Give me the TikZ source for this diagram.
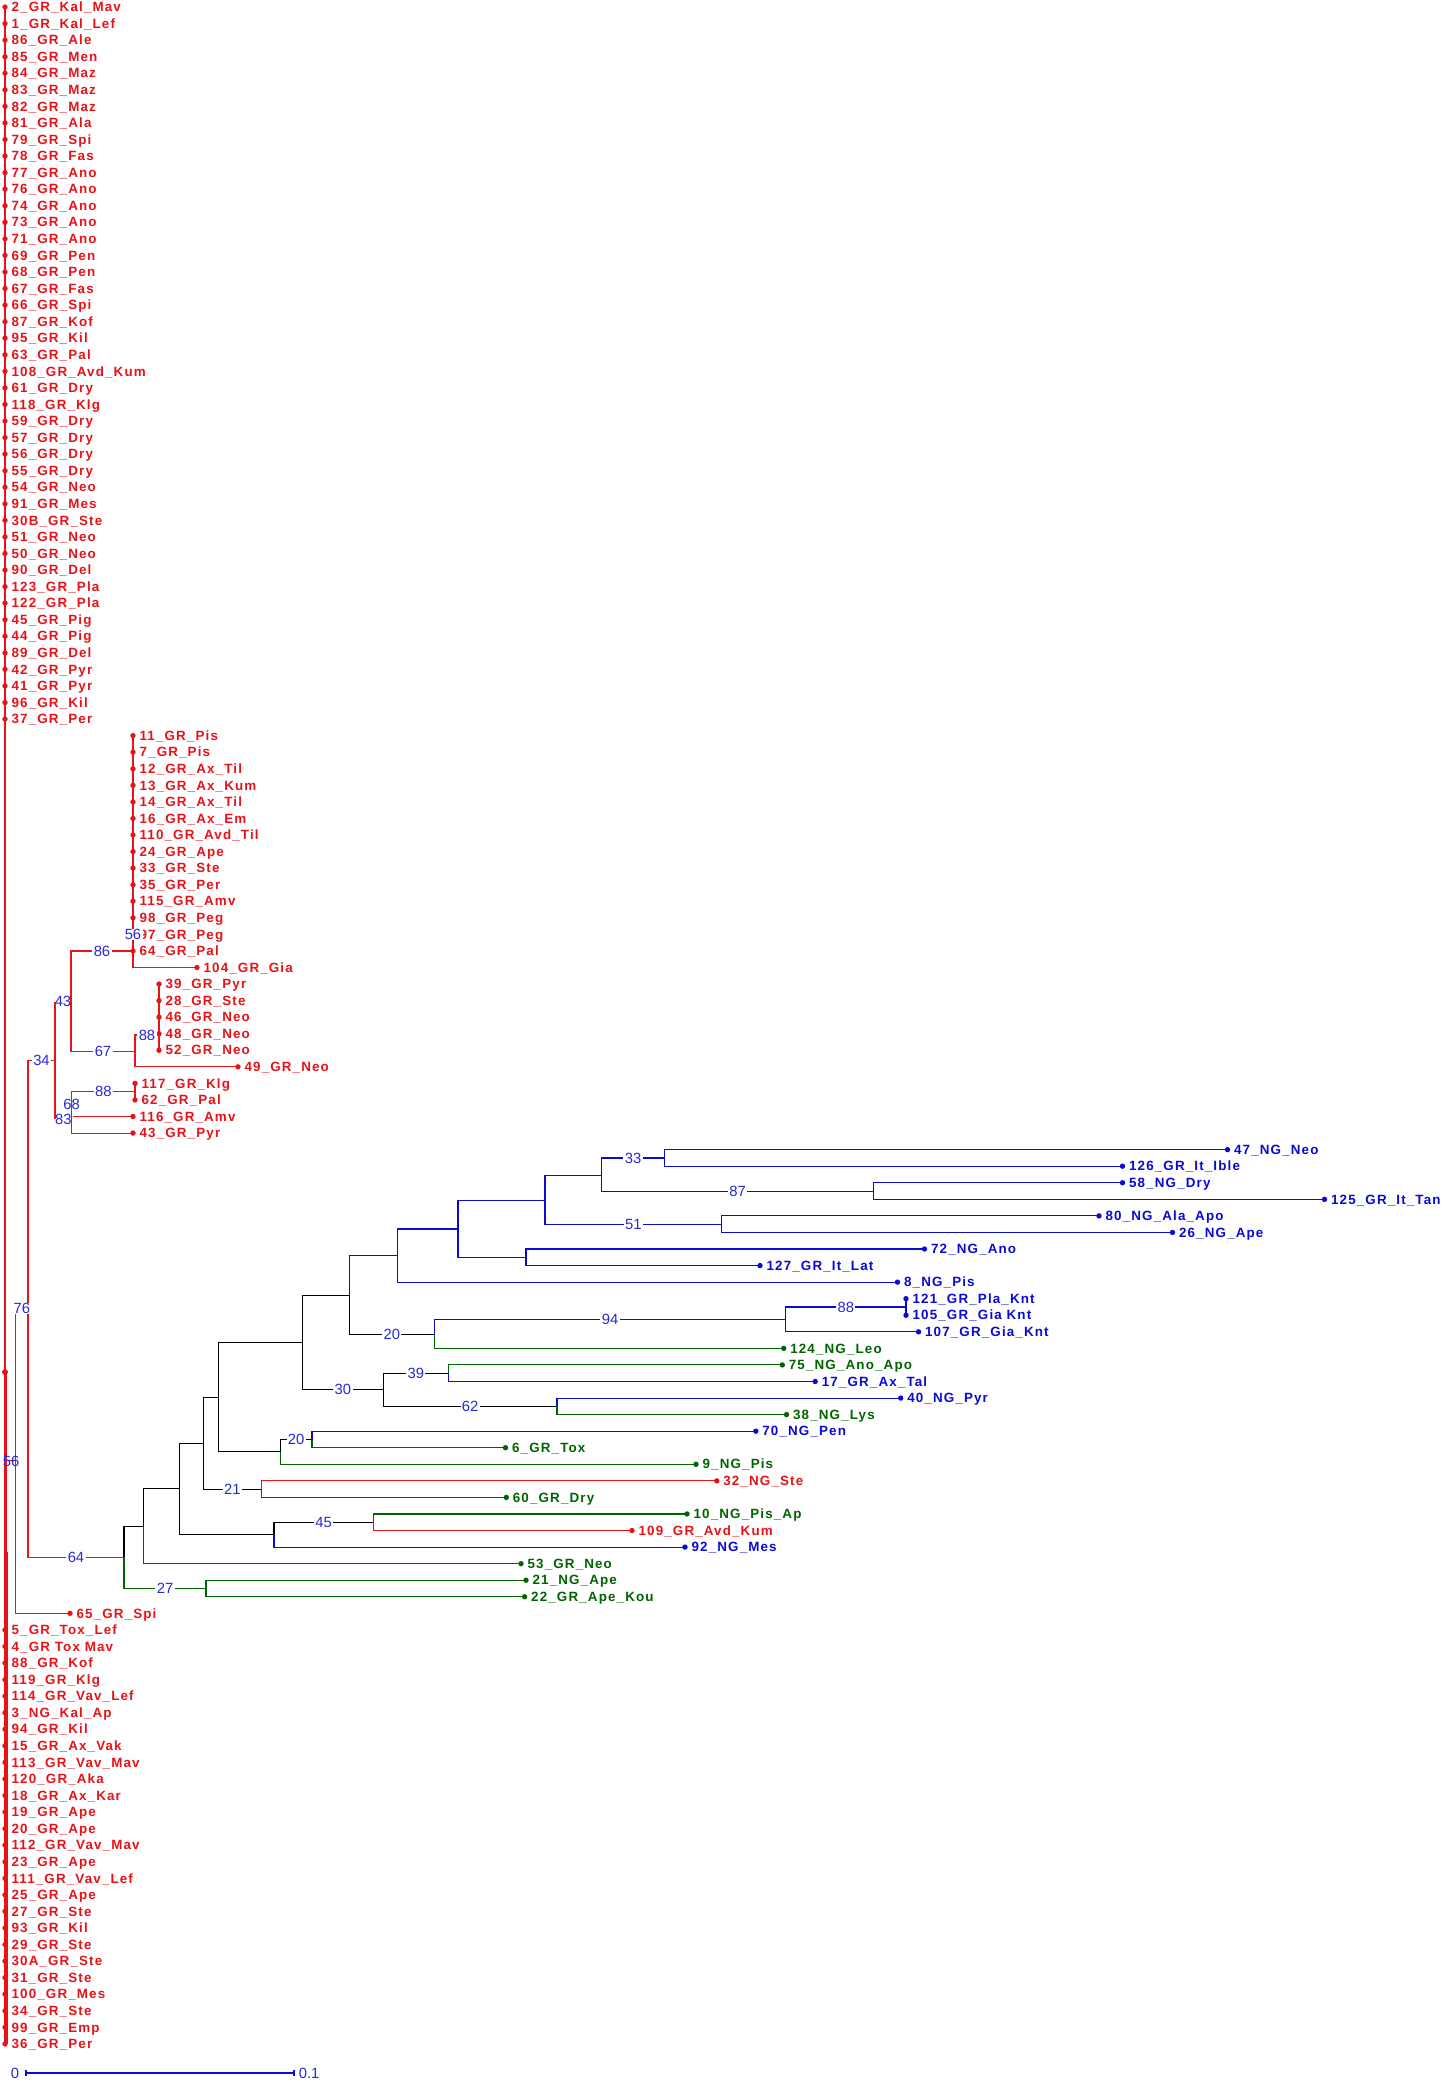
\documentclass[tikz,border=0pt]{standalone}
\usepackage{fontspec}
\setmainfont{Liberation Sans}
\newfontfamily\leaffont[LetterSpace=8.5]{Liberation Sans}
\definecolor{tred}{RGB}{232,18,24}
\definecolor{tblue}{RGB}{10,10,215}
\definecolor{tgreen}{RGB}{0,100,0}
\definecolor{bsblue}{RGB}{40,40,215}
\tikzset{
 lt/.style={font=\leaffont\bfseries\fontsize{6.7}{6.7}\selectfont, inner sep=0pt},
 bs/.style={text=bsblue, font=\fontsize{7.4}{7.4}\selectfont, fill=white, inner xsep=0.7pt, inner ysep=0.3pt},
 bsn/.style={bs, fill=none},
 br/.style={line width=0.55pt},
}
\newcommand\lf[5]{%
 \coordinate (#1) at (#2,{7+16.56*#3});
 \fill[#4] (#1) circle (1.35pt);
 \node[lt,text=#4,anchor=base west] (t#1) at ([xshift=3.1pt,yshift=-2.35pt]#1) {#5};
}
\begin{document}
\begin{tikzpicture}[x=0.5pt,y=-0.5pt]
\fill[white] (0,0) rectangle (1445,2083);
\useasboundingbox (0,0) rectangle (1445,2083);
% ---------- leaves ----------
\lf{l0}{5}{0}{tred}{2\_GR\_Kal\_Mav}
\lf{l1}{5}{1}{tred}{1\_GR\_Kal\_Lef}
\lf{l2}{5}{2}{tred}{86\_GR\_Ale}
\lf{l3}{5}{3}{tred}{85\_GR\_Men}
\lf{l4}{5}{4}{tred}{84\_GR\_Maz}
\lf{l5}{5}{5}{tred}{83\_GR\_Maz}
\lf{l6}{5}{6}{tred}{82\_GR\_Maz}
\lf{l7}{5}{7}{tred}{81\_GR\_Ala}
\lf{l8}{5}{8}{tred}{79\_GR\_Spi}
\lf{l9}{5}{9}{tred}{78\_GR\_Fas}
\lf{l10}{5}{10}{tred}{77\_GR\_Ano}
\lf{l11}{5}{11}{tred}{76\_GR\_Ano}
\lf{l12}{5}{12}{tred}{74\_GR\_Ano}
\lf{l13}{5}{13}{tred}{73\_GR\_Ano}
\lf{l14}{5}{14}{tred}{71\_GR\_Ano}
\lf{l15}{5}{15}{tred}{69\_GR\_Pen}
\lf{l16}{5}{16}{tred}{68\_GR\_Pen}
\lf{l17}{5}{17}{tred}{67\_GR\_Fas}
\lf{l18}{5}{18}{tred}{66\_GR\_Spi}
\lf{l19}{5}{19}{tred}{87\_GR\_Kof}
\lf{l20}{5}{20}{tred}{95\_GR\_Kil}
\lf{l21}{5}{21}{tred}{63\_GR\_Pal}
\lf{l22}{5}{22}{tred}{108\_GR\_Avd\_Kum}
\lf{l23}{5}{23}{tred}{61\_GR\_Dry}
\lf{l24}{5}{24}{tred}{118\_GR\_Klg}
\lf{l25}{5}{25}{tred}{59\_GR\_Dry}
\lf{l26}{5}{26}{tred}{57\_GR\_Dry}
\lf{l27}{5}{27}{tred}{56\_GR\_Dry}
\lf{l28}{5}{28}{tred}{55\_GR\_Dry}
\lf{l29}{5}{29}{tred}{54\_GR\_Neo}
\lf{l30}{5}{30}{tred}{91\_GR\_Mes}
\lf{l31}{5}{31}{tred}{30B\_GR\_Ste}
\lf{l32}{5}{32}{tred}{51\_GR\_Neo}
\lf{l33}{5}{33}{tred}{50\_GR\_Neo}
\lf{l34}{5}{34}{tred}{90\_GR\_Del}
\lf{l35}{5}{35}{tred}{123\_GR\_Pla}
\lf{l36}{5}{36}{tred}{122\_GR\_Pla}
\lf{l37}{5}{37}{tred}{45\_GR\_Pig}
\lf{l38}{5}{38}{tred}{44\_GR\_Pig}
\lf{l39}{5}{39}{tred}{89\_GR\_Del}
\lf{l40}{5}{40}{tred}{42\_GR\_Pyr}
\lf{l41}{5}{41}{tred}{41\_GR\_Pyr}
\lf{l42}{5}{42}{tred}{96\_GR\_Kil}
\lf{l43}{5}{43}{tred}{37\_GR\_Per}
\lf{l44}{133}{44}{tred}{11\_GR\_Pis}
\lf{l45}{133}{45}{tred}{7\_GR\_Pis}
\lf{l46}{133}{46}{tred}{12\_GR\_Ax\_Til}
\lf{l47}{133}{47}{tred}{13\_GR\_Ax\_Kum}
\lf{l48}{133}{48}{tred}{14\_GR\_Ax\_Til}
\lf{l49}{133}{49}{tred}{16\_GR\_Ax\_Em}
\lf{l50}{133}{50}{tred}{110\_GR\_Avd\_Til}
\lf{l51}{133}{51}{tred}{24\_GR\_Ape}
\lf{l52}{133}{52}{tred}{33\_GR\_Ste}
\lf{l53}{133}{53}{tred}{35\_GR\_Per}
\lf{l54}{133}{54}{tred}{115\_GR\_Amv}
\lf{l55}{133}{55}{tred}{98\_GR\_Peg}
\lf{l56}{133}{56}{tred}{97\_GR\_Peg}
\lf{l57}{133}{57}{tred}{64\_GR\_Pal}
\lf{l58}{197}{58}{tred}{104\_GR\_Gia}
\lf{l59}{159}{59}{tred}{39\_GR\_Pyr}
\lf{l60}{159}{60}{tred}{28\_GR\_Ste}
\lf{l61}{159}{61}{tred}{46\_GR\_Neo}
\lf{l62}{159}{62}{tred}{48\_GR\_Neo}
\lf{l63}{159}{63}{tred}{52\_GR\_Neo}
\lf{l64}{238}{64}{tred}{49\_GR\_Neo}
\lf{l65}{135}{65}{tred}{117\_GR\_Klg}
\lf{l66}{135}{66}{tred}{62\_GR\_Pal}
\lf{l67}{133}{67}{tred}{116\_GR\_Amv}
\lf{l68}{133}{68}{tred}{43\_GR\_Pyr}
\lf{l69}{1227.5}{69}{tblue}{47\_NG\_Neo}
\lf{l70}{1122.5}{70}{tblue}{126\_GR\_It\_Ible}
\lf{l71}{1122.5}{71}{tblue}{58\_NG\_Dry}
\lf{l72}{1324.5}{72}{tblue}{125\_GR\_It\_Tan}
\lf{l73}{1099}{73}{tblue}{80\_NG\_Ala\_Apo}
\lf{l74}{1172.5}{74}{tblue}{26\_NG\_Ape}
\lf{l75}{924.5}{75}{tblue}{72\_NG\_Ano}
\lf{l76}{760}{76}{tblue}{127\_GR\_It\_Lat}
\lf{l77}{897.5}{77}{tblue}{8\_NG\_Pis}
\lf{l78}{906}{78}{tblue}{121\_GR\_Pla\_Knt}
\lf{l79}{906}{79}{tblue}{105\_GR\_Gia Knt}
\lf{l80}{918.5}{80}{tblue}{107\_GR\_Gia\_Knt}
\lf{l81}{783.7}{81}{tgreen}{124\_NG\_Leo}
\lf{l82}{782.3}{82}{tgreen}{75\_NG\_Ano\_Apo}
\lf{l83}{815.2}{83}{tblue}{17\_GR\_Ax\_Tal}
\lf{l84}{900.7}{84}{tblue}{40\_NG\_Pyr}
\lf{l85}{786.5}{85}{tgreen}{38\_NG\_Lys}
\lf{l86}{755.8}{86}{tblue}{70\_NG\_Pen}
\lf{l87}{505.5}{87}{tgreen}{6\_GR\_Tox}
\lf{l88}{696}{88}{tgreen}{9\_NG\_Pis}
\lf{l89}{716.8}{89}{tred}{32\_NG\_Ste}
\lf{l90}{506.3}{90}{tgreen}{60\_GR\_Dry}
\lf{l91}{687}{91}{tgreen}{10\_NG\_Pis\_Ap}
\lf{l92}{632}{92}{tred}{109\_GR\_Avd\_Kum}
\lf{l93}{685}{93}{tblue}{92\_NG\_Mes}
\lf{l94}{521}{94}{tgreen}{53\_GR\_Neo}
\lf{l95}{526}{95}{tgreen}{21\_NG\_Ape}
\lf{l96}{524.6}{96}{tgreen}{22\_GR\_Ape\_Kou}
\lf{l97}{70}{97}{tred}{65\_GR\_Spi}
\lf{l98}{5}{98}{tred}{5\_GR\_Tox\_Lef}
\lf{l99}{5}{99}{tred}{4\_GR Tox Mav}
\lf{l100}{5}{100}{tred}{88\_GR\_Kof}
\lf{l101}{5}{101}{tred}{119\_GR\_Klg}
\lf{l102}{5}{102}{tred}{114\_GR\_Vav\_Lef}
\lf{l103}{5}{103}{tred}{3\_NG\_Kal\_Ap}
\lf{l104}{5}{104}{tred}{94\_GR\_Kil}
\lf{l105}{5}{105}{tred}{15\_GR\_Ax\_Vak}
\lf{l106}{5}{106}{tred}{113\_GR\_Vav\_Mav}
\lf{l107}{5}{107}{tred}{120\_GR\_Aka}
\lf{l108}{5}{108}{tred}{18\_GR\_Ax\_Kar}
\lf{l109}{5}{109}{tred}{19\_GR\_Ape}
\lf{l110}{5}{110}{tred}{20\_GR\_Ape}
\lf{l111}{5}{111}{tred}{112\_GR\_Vav\_Mav}
\lf{l112}{5}{112}{tred}{23\_GR\_Ape}
\lf{l113}{5}{113}{tred}{111\_GR\_Vav\_Lef}
\lf{l114}{5}{114}{tred}{25\_GR\_Ape}
\lf{l115}{5}{115}{tred}{27\_GR\_Ste}
\lf{l116}{5}{116}{tred}{93\_GR\_Kil}
\lf{l117}{5}{117}{tred}{29\_GR\_Ste}
\lf{l118}{5}{118}{tred}{30A\_GR\_Ste}
\lf{l119}{5}{119}{tred}{31\_GR\_Ste}
\lf{l120}{5}{120}{tred}{100\_GR\_Mes}
\lf{l121}{5}{121}{tred}{34\_GR\_Ste}
\lf{l122}{5}{122}{tred}{99\_GR\_Emp}
\lf{l123}{5}{123}{tred}{36\_GR\_Per}
% ---------- internal nodes ----------
\coordinate (root) at (5,1372);
\coordinate (tk1) at (6.7,1372);
\coordinate (tk2) at (6.7,2043.9);
\coordinate (r56) at (6.7,1460.9);
\coordinate (r76) at (15.7,1460.9);
\coordinate (r34p) at (28,1308.4);
\coordinate (rN34) at (55,1060.2);
\coordinate (rN86) at (71,1001.5);
\coordinate (rX) at (133,951);
\coordinate (rY) at (133,934.4);
\coordinate (rN67) at (135,1051.4);
\coordinate (rP) at (159,1035);
\coordinate (rN83) at (71.7,1118.9);
\coordinate (rN68) at (71.7,1104.1);
\coordinate (rN88) at (135,1091.7);
\coordinate (N64) at (124,1557.4);
\coordinate (N0) at (143.3,1526.3);
\coordinate (N27) at (206,1588.5);
\coordinate (N1) at (179.3,1488.9);
\coordinate (N45) at (274,1534.6);
\coordinate (N45b) at (373.4,1522.3);
\coordinate (N2) at (203.3,1443.2);
\coordinate (N21) at (261.4,1489.1);
\coordinate (N3) at (218.3,1397.3);
\coordinate (N20a) at (280.4,1451.9);
\coordinate (N20b) at (312,1439.5);
\coordinate (N4) at (302.5,1342.7);
\coordinate (N30) at (383.3,1389.7);
\coordinate (N39) at (448.3,1373.2);
\coordinate (N62) at (557,1406.3);
\coordinate (N5) at (349.3,1295.6);
\coordinate (N20c) at (434.3,1334.5);
\coordinate (N94) at (785.7,1319.4);
\coordinate (N88c) at (906,1307);
\coordinate (N6) at (397.5,1255.6);
\coordinate (N7) at (458,1229);
\coordinate (N9) at (545,1200.5);
\coordinate (N33a) at (601.7,1175.8);
\coordinate (N33b) at (664.3,1158);
\coordinate (N87) at (873.3,1191.5);
\coordinate (N51) at (721.7,1224.2);
\coordinate (N8) at (526,1257.3);
% ---------- trunk ----------
\draw[br,tred] (l0) -- (l123);
\draw[br,tred] (tk1) -- (tk2);
\fill[tred] (4.3,1552) rectangle (7.5,2044);
\fill[tred] (root) circle (1.5pt);
% ---------- red clade ----------
\draw[br,tred] (r56) -- (r76);
\draw[br,tred] (r76) |- (r34p);
\draw[br,tred] (r76) |- (l97);
\draw[br,tred] (r34p) |- (rN34);
\draw[br,tred] (r34p) |- (N64);
\draw[br,tred] (rN34) |- (rN86);
\draw[br,tred] (rN34) |- (rN83);
\draw[br,tred] (rN86) |- (rX);
\draw[br,tred] (rN86) |- (rN67);
\draw[br,tred] (l44) |- (l58);
\draw[br,tred] (rN67) |- (rP);
\draw[br,tred] (rN67) |- (l64);
\draw[br,tred] (l59) -- (l63);
\draw[br,tred] (rN83) |- (rN68);
\draw[br,tred] (rN83) |- (l68);
\draw[br,tred] (rN68) |- (rN88);
\draw[br,tred] (rN68) |- (l67);
\draw[br,tred] (l65) -- (l66);
% ---------- mixed clade ----------
\draw[br] (N64) |- (N0);
\draw[br,tgreen] (N64) |- (N27);
\draw[br] (N0) |- (N1);
\draw[br,tgreen] (N0) |- (l94);
\draw[br,tgreen] (N27) |- (l95);
\draw[br,tgreen] (N27) |- (l96);
\draw[br] (N1) |- (N2);
\draw[br] (N1) |- (N45);
\draw[br] (N45) |- (N45b);
\draw[br,tblue] (N45) |- (l93);
\draw[br,tgreen] (N45b) |- (l91);
\draw[br,tred] (N45b) |- (l92);
\draw[br] (N2) |- (N3);
\draw[br] (N2) |- (N21);
\draw[br,tred] (N21) |- (l89);
\draw[br,tgreen] (N21) |- (l90);
\draw[br] (N3) |- (N4);
\draw[br] (N3) |- (N20a);
\draw[br] (N20a) |- (N20b);
\draw[br,tgreen] (N20a) |- (l88);
\draw[br,tblue] (N20b) |- (l86);
\draw[br,tgreen] (N20b) |- (l87);
\draw[br] (N4) |- (N5);
\draw[br] (N4) |- (N30);
\draw[br] (N30) |- (N39);
\draw[br] (N30) |- (N62);
\draw[br,tgreen] (N39) |- (l82);
\draw[br,tblue] (N39) |- (l83);
\draw[br,tblue] (N62) |- (l84);
\draw[br,tgreen] (N62) |- (l85);
\draw[br,tblue] (N5) |- (N6);
\draw[br] (N5) |- (N20c);
\draw[br,tblue] (N20c) |- (N94);
\draw[br,tgreen] (N20c) |- (l81);
\draw[br,tblue] (N94) |- (N88c);
\draw[br,tblue] (N94) |- (l80);
\draw[br,tblue] (N88c) |- (l78);
\draw[br,tblue] (N88c) |- (l79);
\draw[br,tblue] (N6) |- (N7);
\draw[br,tblue] (N6) |- (l77);
\draw[br,tblue] (N7) |- (N9);
\draw[br,tblue] (N7) |- (N8);
\draw[br,tblue] (N8) |- (l75);
\draw[br,tblue] (N8) |- (l76);
\draw[br,tblue] (N9) |- (N33a);
\draw[br,tblue] (N9) |- (N51);
\draw[br,tblue] (N33a) |- (N33b);
\draw[br,tblue] (N33a) |- (N87);
\draw[br,tblue] (N33b) |- (l69);
\draw[br,tblue] (N33b) |- (l70);
\draw[br,tblue] (N87) |- (l71);
\draw[br,tblue] (N87) |- (l72);
\draw[br,tblue] (N51) |- (l73);
\draw[br,tblue] (N51) |- (l74);
% ---------- bootstrap labels ----------
\path (r56) -- (r76) node[bsn,midway] (b56a) {56};
\path (r76) |- (r34p) node[bs,pos=0.75] (b76) {76};
\path (r34p) |- (rN34) node[bs,pos=0.75] (b34) {34};
\path (r34p) |- (N64) node[bs,pos=0.75] (b64) {64};
\path (rN34) |- (rN86) node[bs,pos=0.75] (b43) {43};
\path (rN34) |- (rN83) node[bs,pos=0.75] (b83) {83};
\path (rN86) |- (rX) node[bs,pos=0.75] (b86) {86};
\path (rN86) |- (rN67) node[bs,pos=0.75] (b67) {67};
\path (rN67) |- (rP) node[bs,pos=0.75] (b88a) {88};
\path (rN83) |- (rN68) node[bsn,pos=0.75] (b68) {68};
\path (rN68) |- (rN88) node[bs,pos=0.75] (b88b) {88};
\path (rX) |- (rY) node[bs,pos=0.75] (b56b) {56};
\draw[br,tred] (rN34|-rN86) -- (rN34|-rN83);
\draw[br,tred] (rN86|-rX) -- (rN86|-rN67);
\draw[br,tred] (rN68|-rN88) -- (rN68|-l68);
\path (N64) |- (N27) node[bs,pos=0.75] (b27) {27};
\path (N45) |- (N45b) node[bs,pos=0.75] (b45) {45};
\path (N2) |- (N21) node[bs,pos=0.75] (b21) {21};
\path (N20a) |- (N20b) node[bs,pos=0.75] (b20a) {20};
\path (N4) |- (N30) node[bs,pos=0.75] (b30) {30};
\path (N30) |- (N39) node[bs,pos=0.75] (b39) {39};
\path (N30) |- (N62) node[bs,pos=0.75] (b62) {62};
\path (N5) |- (N20c) node[bs,pos=0.75] (b20c) {20};
\path (N20c) |- (N94) node[bs,pos=0.75] (b94) {94};
\path (N94) |- (N88c) node[bs,pos=0.75] (b88c) {88};
\path (N33a) |- (N33b) node[bs,pos=0.75] (b33) {33};
\path (N33a) |- (N87) node[bs,pos=0.75] (b87) {87};
\path (N9) |- (N51) node[bs,pos=0.75] (b51) {51};
% ---------- scale bar ----------
\coordinate (s0) at (26,2073);
\coordinate (s1) at (294,2073);
\draw[br,tblue] (s0) -- (s1);
\draw[br,tblue] ([yshift=1.6pt]s0) -- ([yshift=-1.6pt]s0);
\draw[br,tblue] ([yshift=1.6pt]s1) -- ([yshift=-1.6pt]s1);
\node[bsn,anchor=east] (sl0) at ([xshift=-2.5pt]s0) {0};
\node[bsn,anchor=west] (sl1) at ([xshift=1.5pt]s1) {0.1};
\end{tikzpicture}
\end{document}
